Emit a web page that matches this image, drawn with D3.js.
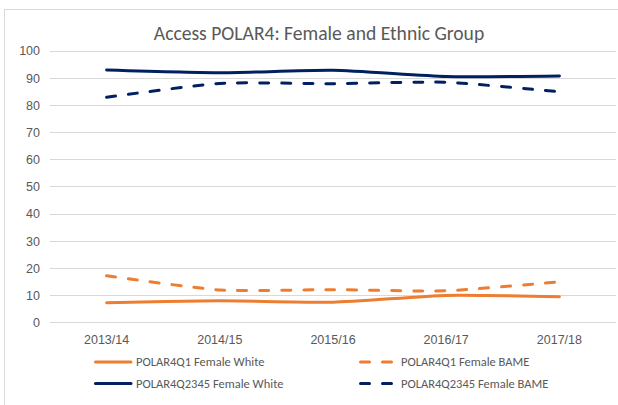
<!DOCTYPE html>
<html><head><meta charset="utf-8">
<script src="https://cdn.jsdelivr.net/npm/d3@7"></script>
<style>
html,body{margin:0;padding:0;background:#fff;}
svg{display:block;font-family:Carlito,Lato,"Liberation Sans",sans-serif;}
</style></head>
<body><svg id="c" width="618" height="405"></svg>
<script>
const title = "Access POLAR4: Female and Ethnic Group";
const categories = ["2013/14","2014/15","2015/16","2016/17","2017/18"];
const yTicks = [0,10,20,30,40,50,60,70,80,90,100];
const seriesNames = ["POLAR4Q1 Female White","POLAR4Q1 Female BAME","POLAR4Q2345 Female White","POLAR4Q2345 Female BAME"];
const q1White = [7.2, 7.9, 7.4, 9.9, 9.4];
const q1Bame = [17.1, 11.9, 12.0, 11.6, 14.9];
const q2345White = [92.8, 91.8, 92.7, 90.4, 90.6];
const q2345Bame = [82.8, 87.9, 87.8, 88.3, 84.8];
const seriesValues = [q1White, q1Bame, q2345White, q2345Bame];
const colors = ["#ed7d31","#ed7d31","#002060","#002060"];
const dashed = [false,true,false,true];

const svg = d3.select("#c");
svg.append("rect").attr("x",4.5).attr("y",9.5).attr("width",640).attr("height",420)
  .attr("fill","none").attr("stroke","#d9d9d9").attr("stroke-width",1);

const x = d3.scaleBand().domain(categories).range([50,616]);
const y = d3.scaleLinear().domain([0,100]).range([322.3,50.5]);

svg.append("g").selectAll("line").data(yTicks).join("line")
  .attr("x1",50).attr("x2",616)
  .attr("y1",d=>Math.round(y(d))+0.5).attr("y2",d=>Math.round(y(d))+0.5)
  .attr("stroke","#d9d9d9").attr("stroke-width",1);

const yAxis = d3.axisLeft(y).tickValues(yTicks).tickSize(0).tickPadding(0);
const yg = svg.append("g").attr("transform","translate(40,0)").call(yAxis);
yg.select(".domain").remove();
yg.selectAll("text").attr("fill","#595959").style("font-size","12.5px").attr("dy","0.35em");

const xAxis = d3.axisBottom(x).tickSize(0).tickPadding(0);
const xg = svg.append("g").attr("transform","translate(0,339.5)").call(xAxis);
xg.select(".domain").remove();
xg.selectAll("text").attr("fill","#595959").style("font-size","12.5px").attr("dy","0.35em");

const line = d3.line()
  .x((d,i)=>x(categories[i]) + x.bandwidth()/2)
  .y(d=>y(d))
  .curve(d3.curveCardinal.tension(0.4));
seriesValues.forEach((vals,k)=>{
  svg.append("path").datum(vals).attr("d",line)
    .attr("fill","none").attr("stroke",colors[k]).attr("stroke-width",3)
    .attr("stroke-linecap","round").attr("stroke-linejoin","round")
    .attr("stroke-dasharray", dashed[k] ? "9,13" : null);
});

svg.append("text").attr("x",319).attr("y",33).attr("text-anchor","middle")
  .attr("dy","0.35em").attr("fill","#595959").style("font-size","19.6px").text(title);

const legPos = [[94,362],[359,362],[94,383.5],[359,383.5]];
seriesNames.forEach((name,k)=>{
  const [lx,ly] = legPos[k];
  const g = svg.append("g");
  g.append("line").attr("x1",lx+1.5).attr("x2",lx+37).attr("y1",ly).attr("y2",ly)
    .attr("stroke",colors[k]).attr("stroke-width",3).attr("stroke-linecap","round")
    .attr("stroke-dasharray", dashed[k] ? "9,13" : null);
  g.append("text").attr("x",lx+42).attr("y",ly).attr("dy","0.35em")
    .attr("fill","#595959").style("font-size","12.5px").text(name);
});
</script></body></html>
